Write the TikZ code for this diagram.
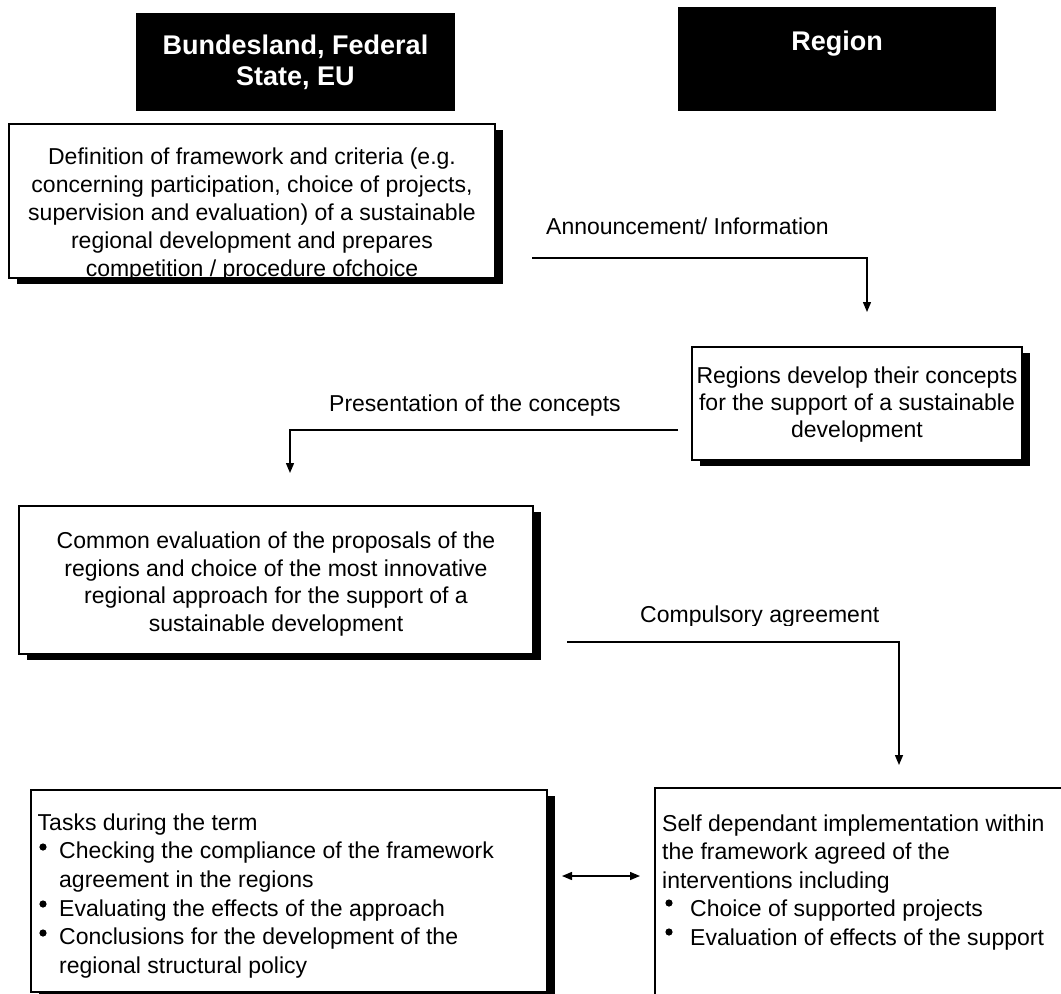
\documentclass[tikz,border=0pt]{standalone}
\usepackage{fontspec}
\setmainfont{Liberation Sans}
\usetikzlibrary{shadows,arrows.meta}
\begin{document}
\begin{tikzpicture}[x=1pt,y=-1pt,
  box/.style={draw=black, line width=1.1pt, fill=white, rectangle, inner sep=0pt,
    drop shadow={shadow xshift=8pt, shadow yshift=-6pt, fill=black, opacity=1}},
  plainbox/.style={draw=black, line width=1.1pt, fill=white, rectangle, inner sep=0pt},
  hdr/.style={fill=black, text=white, inner sep=0pt, align=center,
    font=\fontsize{27}{31}\selectfont\bfseries},
  txt/.style={inner sep=0pt, font=\fontsize{23}{27.7}\selectfont},
  lab/.style={inner sep=0pt, font=\fontsize{23}{27.7}\selectfont, anchor=base west},
  conn/.style={line width=1.4pt, -{Triangle[length=10pt,width=8pt]}},
  dconn/.style={line width=1.4pt, {Triangle[length=10pt,width=8pt]}-{Triangle[length=10pt,width=8pt]}},
  bdot/.style={fill=black}
]
\useasboundingbox (0,0) rectangle (1061,994);
\fill[white] (0,0) rectangle (1061,994);

% headers
\node[hdr, minimum width=319pt, minimum height=98pt] (h1) at (295.5,62) {Bundesland, Federal\\State, EU};
\node[hdr, minimum width=318pt, minimum height=104pt] (h2) at (837,59) {};
\node[hdr, anchor=base] (h2t) at (837,50) {Region};

% box 1
\node[box, minimum width=486pt, minimum height=154pt] (b1) at (252,201) {};
\begin{scope}
  \clip ([shift={(0.6pt,0.6pt)}]b1.south west) rectangle ([shift={(-0.6pt,-0.6pt)}]b1.north east);
  \node[txt, align=center, font=\fontsize{23}{28}\selectfont] (t1) at (252,215) {Definition of framework and criteria (e.g.\\concerning participation, choice of projects,\\supervision and evaluation) of a sustainable\\regional development and prepares\\competition / procedure ofchoice};
\end{scope}

% box 2
\node[box, minimum width=330pt, minimum height=113pt] (b2) at (857,403.5) {};
\node[txt, align=center, font=\fontsize{23}{27}\selectfont] (t2) at (857,405) {Regions develop their concepts\\for the support of a sustainable\\development};

% box 3
\node[box, minimum width=514pt, minimum height=148pt] (b3) at (276,580) {};
\node[txt, align=center] (t3) at (276,584) {Common evaluation of the proposals of the\\regions and choice of the most innovative\\regional approach for the support of a\\sustainable development};

% box 4
\node[box, minimum width=516pt, minimum height=202pt] (b4) at (289,891) {};
\node[txt, align=left, anchor=north west, font=\fontsize{23}{28.6}\selectfont] (t4) at (37.5,813.5) {Tasks during the term\\
\hspace*{21.5pt}Checking the compliance of the framework\\
\hspace*{21.5pt}agreement in the regions\\
\hspace*{21.5pt}Evaluating the effects of the approach\\
\hspace*{21.5pt}Conclusions for the development of the\\
\hspace*{21.5pt}regional structural policy};
\fill[bdot] (43,847) circle (3.6pt);
\fill[bdot] (43,904) circle (3.6pt);
\fill[bdot] (43,933) circle (3.6pt);

% box 5
\node[plainbox, minimum width=420pt, minimum height=230pt] (b5) at (865,903) {};
\node[txt, align=left, anchor=north west, font=\fontsize{23}{28.5}\selectfont] (t5) at (662,814.5) {Self dependant implementation within\\
the framework agreed of the\\
interventions including\\
\hspace*{28pt}Choice of supported projects\\
\hspace*{28pt}Evaluation of effects of the support};
\fill[bdot] (669,903) circle (3.6pt);
\fill[bdot] (669,932) circle (3.6pt);

% connectors
\coordinate (a1s) at (532,258);
\coordinate (a1e) at (867,312);
\draw[conn] (a1s) -| (a1e);
\node[lab] (l1) at (546,234) {Announcement/ Information};

\coordinate (a2s) at (678,430);
\coordinate (a2e) at (290,473);
\draw[conn] (a2s) -| (a2e);
\node[lab] (l2) at (329,411) {Presentation of the concepts};

\coordinate (a3s) at (567,642);
\coordinate (a3e) at (899,765);
\draw[conn] (a3s) -| (a3e);
\begin{scope}
  \clip (600,590) rectangle (920,625);
  \node[lab] (l3) at (640,622) {Compulsory agreement};
\end{scope}

\coordinate (d1) at (562,876);
\coordinate (d2) at (640,876);
\draw[dconn] (d1) -- (d2);
\end{tikzpicture}
\end{document}
